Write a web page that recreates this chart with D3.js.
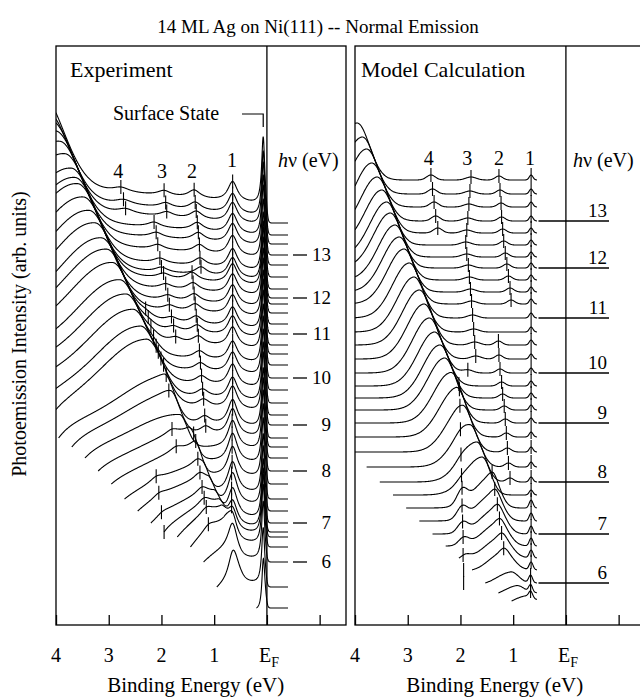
<!DOCTYPE html>
<html><head><meta charset="utf-8">
<script src="https://cdn.jsdelivr.net/npm/d3@7"></script>
<style>
body{margin:0;background:#fff}
svg{display:block}
text{font-family:"Liberation Serif","Times New Roman",serif;fill:#000}
</style>
</head><body>
<svg id="c" width="640" height="699"></svg>
<script>
// ---------------- DATA ----------------
const titleText = "14 ML Ag on Ni(111) --  Normal Emission";
const tickValues = [4, 3, 2, 1, 0, -1];
const tickLabelValues = [4, 3, 2, 1, 0];
const tickLabelText = ["4", "3", "2", "1", "E"];
const hvLabels = [13, 12, 11, 10, 9, 8, 7, 6];

// Experiment: photon energy per spectrum and baseline offset (arb. units)
const expHv = [13.75,13.5,13.25,13.0,12.75,12.5,12.25,12.0,11.75,11.5,11.25,11.0,10.75,10.5,10.25,10.0,9.75,9.5,9.25,9.0,8.75,8.5,8.25,8.0,7.75,7.5,7.25,7.0,6.75,6.5,6.25,6.0,5.75,5.0];
const expOffset = [402,390,381,370,360,348,336,327,321,312,301,291,280,271,260,247,235,222,210,200,187,178,167,154,141,126,114,102,93,88,78,63,38,17];
// broad dispersing feature: centre (eV), height, width of high-kinetic-energy edge (eV)
const expHumpE = [4.32,4.16,4.09,4.01,3.93,3.83,3.71,3.64,3.59,3.48,3.37,3.26,3.14,3.04,2.93,2.79,2.67,2.54,2.40,2.29,1.96,1.83,1.66,1.51,1.37,1.23,1.12,1.01,0.93,0.88,0.80,0.70,0.60,0.30];
const expHumpH = [95,86,87,88,88,88,88,88,88,86,84,82,80,78,76,74,72,70,67,64,44,38,32,28,26,25,24,24,24,24,22,15,10,0];
const expHumpW = [0.64,0.58,0.58,0.59,0.59,0.59,0.59,0.59,0.59,0.58,0.56,0.55,0.54,0.52,0.51,0.50,0.48,0.47,0.45,0.43,0.29,0.25,0.21,0.19,0.17,0.17,0.16,0.16,0.16,0.16,0.16,0.15,0.13,0.10];
const expBg = [18,18,18,18,18,18,17,17,17,16,16,16,15,15,15,14,14,14,13,13,10,9,8,7,6,5,5,4,4,3,3,2,2,1];
const expPk1Amp = [20,20,20,20,20,20,20,20,20,20,20,20,20,20,20,20,21,22,22,23,26,27,28,29,30,31,32,30,26,24,24,30,45,0];
const expSSAmp = [68,66,64,62,62,60,60,60,60,60,60,60,60,60,60,60,60,60,60,60,60,60,60,60,60,60,60,60,60,60,60,60,60,140];
const expPk1E = [0.65,0.65,0.65,0.65,0.65,0.65,0.65,0.65,0.65,0.65,0.65,0.65,0.65,0.65,0.65,0.65,0.65,0.65,0.65,0.65,0.65,0.65,0.66,0.66,0.66,0.66,0.67,0.67,0.67,0.67,null,null,null,null];
const expPk2E = [1.38,1.36,1.34,1.32,1.30,1.28,1.27,1.25,1.42,1.40,1.38,1.36,1.34,1.32,1.30,1.28,1.26,1.24,1.22,1.20,1.18,1.16,null,1.39,1.35,1.31,1.27,1.23,1.19,1.15,1.11,null,null,null];
const expPk3E = [1.95,1.92,1.90,2.14,2.10,2.07,2.03,2.00,1.96,1.92,1.88,1.85,1.81,1.77,1.73,null,null,null,null,null,null,null,null,1.80,1.72,2.10,2.05,2.00,1.95,null,null,null,null,null];
const expPk4E = [2.77,2.72,2.68,null,null,null,null,null,null,null,null,null,2.30,2.25,2.20,2.15,2.10,2.06,2.01,1.96,1.91,1.86,null,null,null,null,null,null,null,null,null,null,null,null];

// Model calculation
const modHv = [13.75,13.5,13.25,13.0,12.75,12.5,12.25,12.0,11.75,11.5,11.25,11.0,10.75,10.5,10.25,10.0,9.75,9.5,9.25,9.0,8.75,8.5,8.25,8.0,7.75,7.5,7.25,7.0,6.75,6.5,6.25,6.0,5.75,5.5];
const modOffset = [445,431,418,404,392,380,368,357,345,333,321,307,293,280,266,252,239,227,215,202,188,173,158,143,130,117,104,91,79,67,55,42,32,24];
const modHumpE = [3.96,3.86,3.78,3.68,3.58,3.49,3.40,3.33,3.24,3.16,3.07,2.97,2.88,2.78,2.69,2.59,2.49,2.39,2.30,2.19,2.08,1.95,1.82,1.69,1.59,1.40,1.35,1.30,1.26,1.22,1.18,1.05,0.95,0.80];
const modHumpH = [57,57,58,58,56,55,55,55,55,55,55,55,55,55,55,55,54,53,52,50,48,45,42,40,38,32,28,26,24,22,20,13,10,8];
const modHumpW = [0.33,0.33,0.34,0.34,0.33,0.32,0.32,0.32,0.32,0.32,0.32,0.32,0.32,0.32,0.32,0.32,0.32,0.31,0.30,0.29,0.28,0.26,0.25,0.23,0.22,0.21,0.22,0.23,0.24,0.25,0.25,0.20,0.20,0.20];
const modPk1E = [0.66,0.66,0.66,0.66,0.66,0.66,0.66,0.66,0.66,0.66,0.66,0.66,0.66,0.66,0.66,0.66,0.66,0.66,0.66,0.66,0.66,0.66,0.66,0.66,0.66,0.66,0.66,0.66,0.66,0.66,0.66,0.67,0.67,0.67];
const modPk2E = [1.27,1.25,1.23,1.22,1.20,1.18,1.15,1.12,1.09,1.06,1.04,null,null,1.28,1.27,1.25,1.22,1.20,1.17,1.15,1.13,1.11,1.09,1.06,null,1.40,1.35,1.30,1.26,1.22,1.18,null,null,null];
const modPk3E = [1.80,1.82,1.84,1.86,1.88,1.90,1.88,1.85,1.83,1.81,1.79,1.77,1.75,1.73,1.71,1.86,null,null,null,2.03,2.02,2.01,2.00,1.99,1.98,1.97,1.97,1.96,1.95,1.95,1.94,1.94,null,null];
const modPk3Amp = [3,3,3,3,3,3,3,3,3,3,3,3,3,3,3,3,0,0,0,2,2,2,2,2,2,14,12,11,10,9,8,6,0,0];
const modPk4E = [2.56,2.53,2.50,2.47,2.43,null,null,null,null,null,null,null,null,null,null,null,null,null,null,null,null,null,null,null,null,null,null,null,null,null,null,null,null,null];

// Peak labels (binding energy of label)
const expPeakLabelE = [2.82, 1.99, 1.42, 0.66];
const modPeakLabelE = [2.60, 1.87, 1.27, 0.68];
const peakLabelText = ["4", "3", "2", "1"];

// ---------------- SHAPES ----------------
const lor = (E, c, g) => { const d = (E - c) / g; return 1 / (1 + d * d); };
const gau = (E, c, w) => { const d = (E - c) / w; return Math.exp(-d * d); };
const asym = (E, c, wl, wr) => E >= c ? gau(E, c, wl) : gau(E, c, wr);
const fermi = (E, kT) => 1 / (1 + Math.exp(-E / kT));

function expI(i, E) {
  const Es = expHv[i] - 4.8;
  const S = E < Es ? 1 - Math.exp(-(Es - E) / 0.3) : 0;
  let v = expBg[i] * (1 + 0.25 * E)
    + expHumpH[i] * asym(E, expHumpE[i], 1.1, expHumpW[i])
    + expPk1Amp[i] * lor(E, 0.65, 0.11)
    + expSSAmp[i] * lor(E, 0.07, 0.035);
  if (expPk2E[i] != null) v += 8 * lor(E, expPk2E[i], 0.14);
  if (expPk3E[i] != null) v += 5 * lor(E, expPk3E[i], 0.15);
  if (expPk4E[i] != null) v += 5 * lor(E, expPk4E[i], 0.2);
  return v * S * fermi(E, 0.015);
}
function modI(i, E) {
  const Es = modHv[i] - 4.47;
  const S = E < Es ? 1 - Math.exp(-(Es - E) / 0.25) : 0;
  let v = modHumpH[i] * asym(E, modHumpE[i], 0.45, modHumpW[i]);
  v += (i > 24 ? 8 : 5) * gau(E, modPk1E[i], 0.05);
  if (modPk2E[i] != null) v += 4 * gau(E, modPk2E[i], 0.1);
  if (modPk3E[i] != null) v += modPk3Amp[i] * gau(E, modPk3E[i], 0.14);
  if (modPk4E[i] != null) v += 5 * gau(E, modPk4E[i], 0.12);
  return v * S;
}

// ---------------- DRAW ----------------
const svg = d3.select("#c");
const yTop = 46, yBot = 625;
const y = d3.scaleLinear().domain([0, 579]).range([yBot, yTop]);
const xL = d3.scaleLinear().domain([4, -1.5]).range([56, 346]);
const xR = d3.scaleLinear().domain([4, -1.5]).range([355, 645]);

svg.append("text").attr("x", 318).attr("y", 33).attr("text-anchor", "middle")
  .attr("font-size", 19).text(titleText);
svg.append("text").attr("transform", "translate(26,334) rotate(-90)")
  .attr("text-anchor", "middle").attr("font-size", 20)
  .text("Photoemission Intensity (arb. units)");

const defs = svg.append("defs");
[xL, xR].forEach((x, k) => {
  defs.append("clipPath").attr("id", "clip" + k).append("rect")
    .attr("x", x.range()[0]).attr("y", yTop).attr("width", x.range()[1] - x.range()[0]).attr("height", yBot - yTop);
});

function frame(x, k, name) {
  const g = svg.append("g");
  g.append("rect").attr("x", x.range()[0]).attr("y", yTop)
    .attr("width", x.range()[1] - x.range()[0]).attr("height", yBot - yTop)
    .attr("fill", "none").attr("stroke", "#000").attr("stroke-width", 1.3);
  g.append("line").attr("x1", x(0)).attr("x2", x(0)).attr("y1", yTop).attr("y2", yBot)
    .attr("stroke", "#000").attr("stroke-width", 1.3);
  const ax = svg.append("g").attr("transform", `translate(0,${yBot})`)
    .call(d3.axisTop(x).tickValues(tickValues).tickSize(10).tickSizeOuter(0).tickFormat(""));
  ax.select(".domain").remove();
  ax.selectAll("line").attr("stroke-width", 1.3);
  tickLabelValues.forEach((v, j) => {
    const t = svg.append("text").attr("font-size", 20).attr("y", 662);
    if (v === 0) {
      t.attr("x", x(0) - 8).text(tickLabelText[j]);
      t.append("tspan").attr("dy", 5).attr("font-size", 14).text("F");
    } else {
      t.attr("x", x(v)).attr("text-anchor", "middle").text(tickLabelText[j]);
    }
  });
  svg.append("text").attr("x", x(1.35)).attr("y", 692)
    .attr("text-anchor", "middle").attr("font-size", 21).text("Binding Energy (eV)");
  svg.append("text").attr("x", x.range()[0] + (k === 0 ? 14 : 6)).attr("y", 77).attr("font-size", 22).text(name);
}
frame(xL, 0, "Experiment");
frame(xR, 1, "Model Calculation");

const line = (x) => d3.line().x(d => x(d[0])).y(d => y(d[1]));

// experiment curves
const gE = svg.append("g").attr("clip-path", "url(#clip0)");
expHv.forEach((hv, i) => {
  const Emax = Math.min(4, hv - 4.8);
  const pts = d3.range(Math.round(Emax * 200), Math.round(-0.4 * 200) - 1, -1)
    .map(k => k / 200).map(E => [E, expOffset[i] + expI(i, E)]);
  gE.append("path").attr("d", line(xL)(pts)).attr("fill", "none")
    .attr("stroke", "#000").attr("stroke-width", 1.1);
});
[expPk1E, expPk2E, expPk3E, expPk4E].forEach(arr => {
  arr.forEach((E, i) => {
    if (E == null) return;
    const yy = y(expOffset[i] + expI(i, E));
    gE.append("line").attr("x1", xL(E)).attr("x2", xL(E)).attr("y1", yy - 7).attr("y2", yy + 7)
      .attr("stroke", "#000").attr("stroke-width", 1.1);
  });
});

// model curves
const gM = svg.append("g").attr("clip-path", "url(#clip1)");
modHv.forEach((hv, i) => {
  const Emax = Math.min(4, hv - 4.47);
  const pts = d3.range(Math.round(Emax * 100), Math.round(0.55 * 100) - 1, -1)
    .map(k => k / 100).map(E => [E, modOffset[i] + modI(i, E)]);
  gM.append("path").attr("d", line(xR).curve(d3.curveBasis)(pts)).attr("fill", "none")
    .attr("stroke", "#000").attr("stroke-width", 1.1);
});
[modPk1E, modPk2E, modPk3E, modPk4E].forEach(arr => {
  arr.forEach((E, i) => {
    if (E == null) return;
    const yy = y(modOffset[i] + modI(i, E));
    gM.append("line").attr("x1", xR(E)).attr("x2", xR(E)).attr("y1", yy - 7).attr("y2", yy + 7)
      .attr("stroke", "#000").attr("stroke-width", 1.1);
  });
});

// peak labels
peakLabelText.forEach((t, j) => {
  svg.append("text").attr("x", xL(expPeakLabelE[j])).attr("y", j === 3 ? 167 : 178)
    .attr("text-anchor", "middle").attr("font-size", 20).text(t);
  svg.append("text").attr("x", xR(modPeakLabelE[j])).attr("y", 165)
    .attr("text-anchor", "middle").attr("font-size", 20).text(t);
});

// surface state
svg.append("text").attr("x", 113).attr("y", 120).attr("font-size", 20).text("Surface State");
svg.append("path").attr("d", `M242,114H${xL(0.07)}V127`).attr("fill", "none").attr("stroke", "#000").attr("stroke-width", 1.2);

// h nu labels
[xL, xR].forEach((x, k) => {
  const t = svg.append("text").attr("x", k === 0 ? 278 : 573).attr("y", 167).attr("font-size", 20);
  t.append("tspan").attr("font-style", "italic").text("h");
  t.append("tspan").text("\u03BD (eV)");
});
hvLabels.forEach(L => {
  const i = expHv.indexOf(L);
  const yy = y(expOffset[i]);
  svg.append("line").attr("x1", 293).attr("x2", 307).attr("y1", yy).attr("y2", yy)
    .attr("stroke", "#000").attr("stroke-width", 1.3);
  svg.append("text").attr("x", 331).attr("y", yy + 6).attr("text-anchor", "end")
    .attr("font-size", 19).text(L);
  const m = modHv.indexOf(L);
  const ym = y(modOffset[m]);
  svg.append("line").attr("x1", xR(0.52)).attr("x2", 609).attr("y1", ym).attr("y2", ym)
    .attr("stroke", "#000").attr("stroke-width", 1.3);
  svg.append("text").attr("x", 607).attr("y", ym - 4).attr("text-anchor", "end")
    .attr("font-size", 19).text(L);
});
</script>
</body></html>
